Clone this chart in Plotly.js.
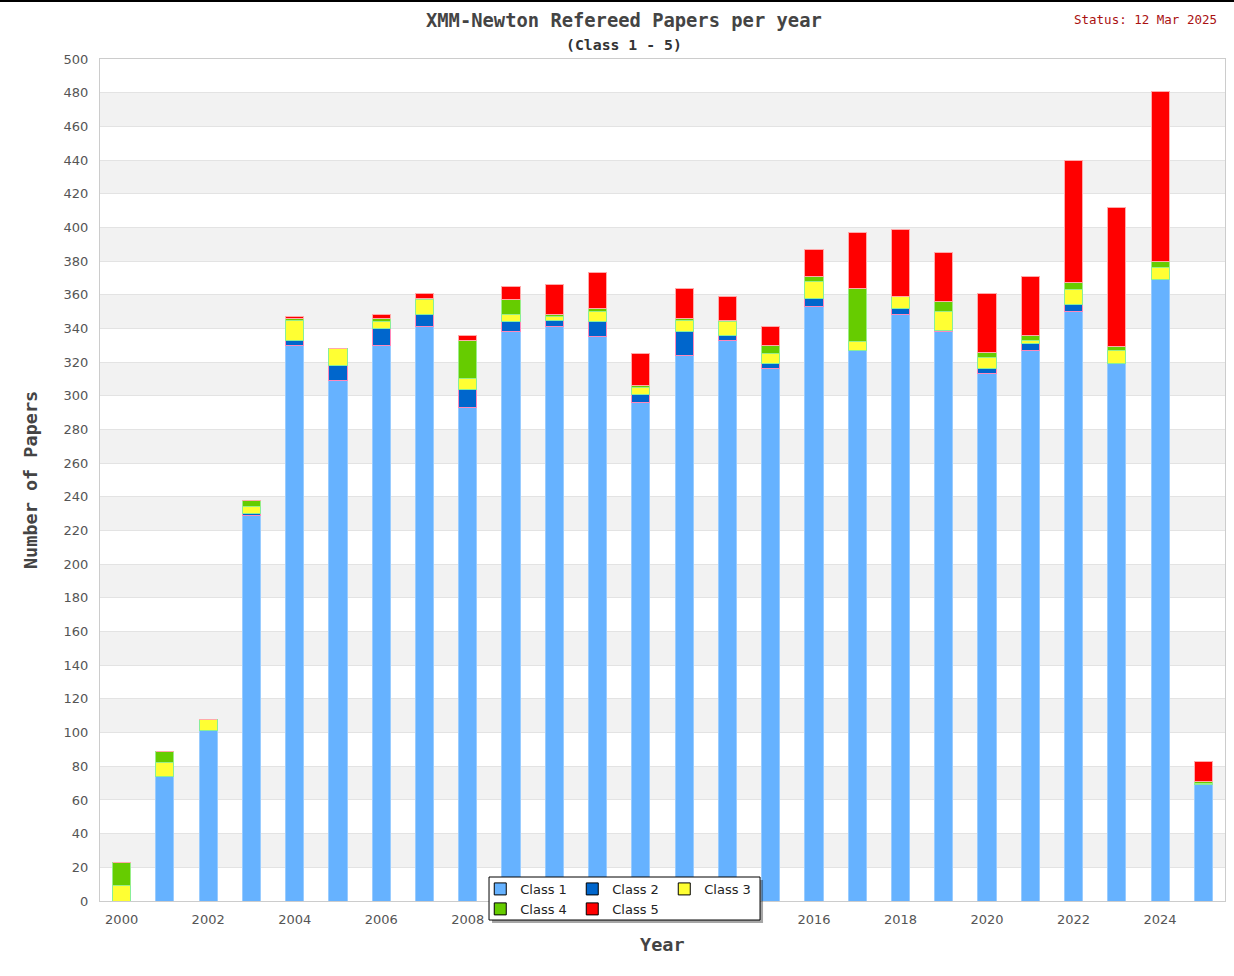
<!DOCTYPE html>
<html>
<head>
<meta charset="utf-8">
<script src="https://cdn.plot.ly/plotly-3.0.1.min.js"></script>
<style>
  html, body { margin: 0; padding: 0; background: #fff; }
  #topbar { position: absolute; left: 0; top: 0; width: 1234px; height: 2px; background: #000; z-index: 10; }
  #chart { position: absolute; left: 0; top: 0; width: 1234px; height: 976px; }
</style>
</head>
<body>
<div id="topbar"></div>
<div id="chart"></div>
<script>
// ---- data ----
const years = [2000,2001,2002,2003,2004,2005,2006,2007,2008,2009,2010,2011,2012,
               2013,2014,2015,2016,2017,2018,2019,2020,2021,2022,2023,2024,2025];
const class1 = [0,74,101,229,330,309,330,341,293,338,341,335,296,324,333,316,353,327,348,338,313,327,350,319,369,69];
const class2 = [0,0,0,1,3,9,10,7,11,6,4,9,5,14,3,3,5,0,4,1,3,4,4,0,0,0];
const class3 = [9,8,7,4,12,10,4,9,6,4,2,6,4,7,8,6,10,5,7,11,7,2,9,8,7,1];
const class4 = [14,7,0,4,1,0,2,1,23,9,1,2,1,1,1,5,3,32,0,6,3,3,4,2,4,1];
const class5 = [0,0,0,0,1,0,2,3,3,8,18,21,19,18,14,11,16,33,40,29,35,35,73,83,101,12];
// x tick labels visible in the reference (2010, 2012, 2014 are hidden behind the legend)
const xTickYears = [2000,2002,2004,2006,2008,2016,2018,2020,2022,2024];

const seriesNames = ["Class 1","Class 2","Class 3","Class 4","Class 5"];
const seriesValues = [class1, class2, class3, class4, class5];
const fillColors = ["#66b2ff","#0066cc","#ffff33","#66cc00","#ff0000"];
const edgeColors = ["#99ccff","#ff88bb","#88ee99","#99ee88","#ffaaaa"];
const legendOf = ["legend","legend","legend","legend2","legend2"];

const traces = [];
seriesValues.forEach((vals, i) => {
  traces.push({
    type: "bar", x: years, y: vals, name: seriesNames[i],
    width: 0.42, showlegend: false,
    marker: { color: fillColors[i], line: { color: edgeColors[i], width: 1 } },
    hoverinfo: "x+y+name"
  });
});
// legend-only entries (black-edged squares as in the reference)
seriesValues.forEach((vals, i) => {
  traces.push({
    type: "bar", x: [years[0]], y: [null], name: seriesNames[i],
    legend: legendOf[i], showlegend: true, hoverinfo: "skip",
    marker: { color: fillColors[i], line: { color: "#000", width: 1 } }
  });
});

// alternating background bands
const shapes = [];
for (let v = 20; v < 500; v += 40) {
  shapes.push({ type: "rect", xref: "paper", yref: "y", x0: 0, x1: 1, y0: v, y1: v + 20,
    fillcolor: "#f2f2f2", line: { width: 0 }, layer: "below" });
}
// legend frame with shadow
const px = 1 / 1125, py = 1 / 842;
shapes.push({ type: "rect", xref: "paper", yref: "paper",
  x0: 0.3458 + 3 * px, x1: 0.5867 + 3 * px, y0: -0.0226 - 3 * py, y1: 0.0285 - 3 * py,
  fillcolor: "rgba(0,0,0,0.35)", line: { width: 0 }, layer: "above" });
shapes.push({ type: "rect", xref: "paper", yref: "paper",
  x0: 0.3458, x1: 0.5867, y0: -0.0226, y1: 0.0285,
  fillcolor: "#ffffff", line: { color: "#000", width: 1 }, layer: "above" });

const mono = "DejaVu Sans Mono, Liberation Mono, monospace";
const sans = "DejaVu Sans, Verdana, sans-serif";

const layout = {
  width: 1234, height: 976,
  margin: { l: 100, r: 9, t: 59, b: 75 },
  paper_bgcolor: "#ffffff", plot_bgcolor: "#ffffff",
  barmode: "stack", bargap: 0.5,
  showlegend: true,
  xaxis: {
    range: [1999.5, 2025.5], tickmode: "array", tickvals: xTickYears,
    ticktext: xTickYears.map(String),
    showgrid: false, zeroline: false,
    showline: true, linecolor: "#cccccc", linewidth: 1, mirror: true,
    ticks: "", ticklabelstandoff: 6,
    tickfont: { family: sans, size: 13, color: "#555555" }
  },
  yaxis: {
    range: [0, 500], tick0: 0, dtick: 20, tickmode: "linear",
    showgrid: true, gridcolor: "#e3e3e3", gridwidth: 1, zeroline: false,
    showline: true, linecolor: "#cccccc", linewidth: 1, mirror: true,
    ticks: "", ticklabelstandoff: 8,
    tickfont: { family: sans, size: 13, color: "#555555" }
  },
  legend: {
    orientation: "h", x: 0.338, y: 0.0321, xanchor: "left", yanchor: "top",
    bgcolor: "rgba(0,0,0,0)", borderwidth: 0, entrywidth: 47,
    font: { family: sans, size: 13, color: "#222222" }, traceorder: "normal"
  },
  legend2: {
    orientation: "h", x: 0.338, y: 0.0084, xanchor: "left", yanchor: "top",
    bgcolor: "rgba(0,0,0,0)", borderwidth: 0, entrywidth: 47,
    font: { family: sans, size: 13, color: "#222222" }, traceorder: "normal"
  },
  shapes: shapes,
  annotations: [
    { text: "<b>XMM-Newton Refereed Papers per year</b>", xref: "paper", yref: "paper",
      x: 0.4658, y: 1.0463, xanchor: "center", yanchor: "middle", showarrow: false,
      font: { family: mono, size: 18.8, color: "#444444" } },
    { text: "<b>(Class 1 - 5)</b>", xref: "paper", yref: "paper",
      x: 0.4662, y: 1.0178, xanchor: "center", yanchor: "middle", showarrow: false,
      font: { family: mono, size: 14.8, color: "#333333" } },
    { text: "Status: 12 Mar 2025", xref: "paper", yref: "paper",
      x: 0.9947, y: 1.0475, xanchor: "right", yanchor: "middle", showarrow: false,
      font: { family: mono, size: 12.5, color: "#aa1111" } },
    { text: "<b>Number of Papers</b>", xref: "paper", yref: "paper",
      x: -0.0622, y: 0.5, xanchor: "center", yanchor: "middle", showarrow: false,
      textangle: -90, font: { family: mono, size: 18.5, color: "#444444" } },
    { text: "<b>Year</b>", xref: "paper", yref: "paper",
      x: 0.5004, y: -0.0511, xanchor: "center", yanchor: "middle", showarrow: false,
      font: { family: mono, size: 18.5, color: "#444444" } }
  ]
};

Plotly.newPlot("chart", traces, layout, { displayModeBar: false, staticPlot: true });
</script>
</body>
</html>
